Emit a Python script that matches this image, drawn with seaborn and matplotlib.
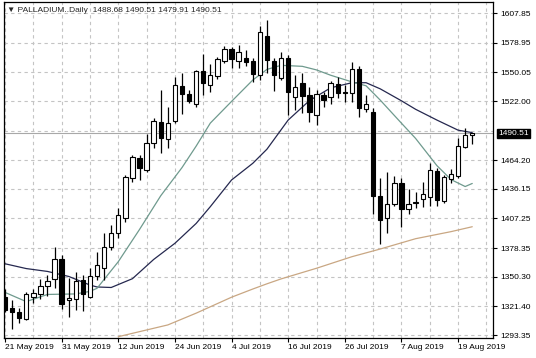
import numpy as np
import pandas as pd
import matplotlib
matplotlib.use("Agg")
import matplotlib.pyplot as plt
import seaborn as sns

# daily palladium bars, 21 May - 21 Aug 2019
dates = pd.bdate_range("2019-05-21", periods=67)

opens = [1330.5, 1319.3, 1316.1, 1309.0, 1330.5, 1333.4, 1341.3, 1348.1, 1367.6, 1327.6,
         1328.5, 1347.1, 1330.8, 1351.5, 1358.6, 1379.7, 1393.4, 1407.4, 1446.5, 1466.1,
         1454.7, 1480.7, 1501.9, 1485.0, 1502.6, 1536.8, 1528.7, 1519.2, 1551.4, 1537.8,
         1546.3, 1561.7, 1573.4, 1561.7, 1564.2, 1561.7, 1548.0, 1585.7, 1561.3, 1544.3,
         1563.9, 1526.3, 1539.7, 1528.0, 1508.4, 1528.0, 1526.0, 1538.5, 1530.6, 1529.9,
         1553.1, 1514.0, 1511.6, 1429.2, 1407.9, 1421.7, 1441.9, 1416.2, 1422.2, 1426.0,
         1428.6, 1454.0, 1424.7, 1445.4, 1448.8, 1477.4, 1488.68]
highs = [1338.3, 1327.6, 1319.7, 1335.4, 1338.3, 1348.1, 1352.0, 1379.4, 1371.6, 1349.1,
         1354.9, 1352.0, 1358.8, 1374.5, 1392.8, 1400.9, 1417.2, 1449.8, 1469.3, 1469.3,
         1489.9, 1505.2, 1532.9, 1516.5, 1545.6, 1549.5, 1532.9, 1552.4, 1568.1, 1558.3,
         1565.1, 1575.9, 1574.9, 1576.4, 1571.5, 1563.9, 1595.9, 1601.3, 1564.0, 1570.3,
         1567.1, 1548.0, 1549.2, 1535.8, 1532.9, 1531.2, 1541.9, 1545.1, 1537.8, 1560.2,
         1556.0, 1528.0, 1515.0, 1446.5, 1452.5, 1448.8, 1446.5, 1435.8, 1433.2, 1443.2,
         1461.8, 1456.3, 1449.8, 1455.3, 1486.4, 1495.4, 1490.51]
lows = [1315.8, 1299.2, 1305.4, 1308.0, 1324.6, 1328.5, 1331.5, 1339.3, 1318.8, 1311.2,
        1317.8, 1317.1, 1329.5, 1347.1, 1347.1, 1376.5, 1388.0, 1404.1, 1443.2, 1444.9,
        1453.0, 1475.9, 1471.0, 1475.9, 1500.6, 1509.4, 1520.2, 1516.7, 1528.0, 1530.9,
        1543.6, 1559.0, 1554.1, 1554.1, 1556.3, 1541.0, 1542.6, 1549.2, 1532.2, 1542.6,
        1508.4, 1513.3, 1510.4, 1501.1, 1498.4, 1515.8, 1519.4, 1524.7, 1521.4, 1521.0,
        1506.8, 1511.4, 1412.1, 1382.6, 1393.4, 1419.7, 1398.9, 1411.9, 1417.2, 1418.2,
        1419.5, 1419.5, 1422.7, 1442.2, 1447.3, 1476.2, 1479.91]
closes = [1317.8, 1316.3, 1309.7, 1333.9, 1334.9, 1341.3, 1346.1, 1368.1, 1323.6, 1330.0,
          1346.1, 1333.4, 1351.0, 1361.3, 1379.1, 1392.8, 1410.7, 1448.1, 1467.1, 1456.3,
          1480.7, 1502.9, 1485.6, 1500.9, 1537.8, 1529.0, 1522.6, 1551.4, 1539.4, 1547.5,
          1562.7, 1573.4, 1563.2, 1570.0, 1560.0, 1548.3, 1589.3, 1562.2, 1547.5, 1563.9,
          1530.9, 1535.8, 1526.7, 1510.9, 1528.7, 1523.4, 1539.4, 1530.4, 1530.2, 1553.1,
          1515.0, 1519.2, 1429.7, 1405.5, 1421.4, 1441.9, 1416.5, 1421.1, 1423.0, 1431.2,
          1454.7, 1425.3, 1447.5, 1450.8, 1478.1, 1488.9, 1490.51]

# moving averages (bar number, value)
fast_bars = [0, 3, 6, 10, 12, 13, 16, 19, 22, 25, 27, 29, 32, 35, 37, 39, 42, 44,
             46, 49, 51, 53, 56, 58, 61, 63, 65, 66]
fast_ma = [1335.0, 1326.0, 1333.0, 1333.5, 1336.0, 1339.0, 1365.0, 1396.5, 1429.5,
           1457.0, 1478.0, 1500.5, 1521.7, 1542.6, 1553.0, 1557.0, 1556.0, 1552.5,
           1547.3, 1540.8, 1537.0, 1523.0, 1500.4, 1485.5, 1459.0, 1445.3, 1438.5, 1441.5]
mid_bars = [0, 3, 6, 9, 12, 13, 15, 18, 21, 24, 27, 29, 32, 35, 37, 40, 43, 46, 49,
            51, 53, 56, 58, 61, 64, 66]
mid_ma = [1363.0, 1358.3, 1355.5, 1350.6, 1342.2, 1340.3, 1339.8, 1348.4, 1367.2,
          1383.0, 1402.4, 1418.8, 1444.9, 1461.2, 1475.0, 1503.5, 1522.5, 1535.0,
          1540.0, 1540.0, 1534.0, 1522.3, 1514.0, 1503.5, 1493.6, 1491.2]
slow_bars = [16, 23, 27, 32, 35, 37, 39, 44, 49, 53, 58, 63, 66]
slow_ma = [1291.7, 1303.2, 1314.7, 1330.3, 1338.3, 1343.4, 1348.2, 1358.6, 1369.9,
           1377.4, 1387.5, 1394.4, 1399.2]

y_ticks = [1293.35, 1321.40, 1350.30, 1378.35, 1407.25, 1436.15, 1464.20,
           1522.00, 1550.05, 1578.95, 1607.85]
hidden_grid = 1493.10
last_price = 1490.51
title = "▼ PALLADIUM..Daily  1488.68 1490.51 1479.91 1490.51"

sns.set_style("white")
plt.rcParams["font.family"] = ["Liberation Sans", "DejaVu Sans"]
plt.rcParams["font.size"] = 6

fig = plt.figure(figsize=(5.36, 3.58), dpi=100)
ax = fig.add_axes([4 / 536, 20 / 358, 489 / 536, 336 / 358])

grid_kw = dict(color="#c4c4c4", lw=0.8, ls=(0, (3, 3)), zorder=0)
for v in y_ticks + [hidden_grid]:
    ax.axhline(v, **grid_kw)
for b in range(0, 69, 4):
    ax.axvline(b, **grid_kw)

ax.axhline(last_price, color="#a8a8a8", lw=0.8, zorder=1)

sns.lineplot(x=slow_bars, y=slow_ma, ax=ax, color="#c9a783", lw=0.9, zorder=2)
sns.lineplot(x=mid_bars, y=mid_ma, ax=ax, color="#25284f", lw=0.9, zorder=2)
sns.lineplot(x=fast_bars, y=fast_ma, ax=ax, color="#6f9a8e", lw=0.9, zorder=2)

o = np.array(opens)
c = np.array(closes)
x = np.arange(len(dates))
ax.vlines(x, lows, highs, color="black", lw=0.9, zorder=3)
bottom = np.minimum(o, c)
height = np.maximum(np.abs(c - o), 0.8)
fills = np.where(c < o, "black", "white")
ax.bar(x, height, bottom=bottom, width=0.62, color=fills, edgecolor="black",
       linewidth=0.8, zorder=4)

ax.set_xlim(-0.14, 68.93)
ax.set_ylim(1290.42, 1618.9)

ax.yaxis.tick_right()
ax.set_yticks(y_ticks)
ax.set_yticklabels([f"{v:.2f}" for v in y_ticks])
lab_pos = list(range(0, 67, 8))
ax.set_xticks(lab_pos)
ax.set_xticklabels([f"{dates[i].day} {dates[i].strftime('%b %Y')}" for i in lab_pos],
                   ha="left")
ax.tick_params(axis="both", direction="out", length=3, width=0.8, colors="black",
               labelsize=6, pad=2)
ax.tick_params(axis="y", left=False, right=True)
ax.tick_params(axis="x", bottom=True, pad=1.5)
for s in ax.spines.values():
    s.set_visible(True)
    s.set_color("black")
    s.set_linewidth(0.9)
ax.set_xlabel("")
ax.set_ylabel("")

ax.annotate(f"{last_price:.2f}", xy=(1.0, last_price),
            xycoords=("axes fraction", "data"), xytext=(4, 0),
            textcoords="offset points", va="center", ha="left", fontsize=6,
            color="white", bbox=dict(boxstyle="square,pad=0.15", fc="black", ec="black"))

fig.text(7 / 536, 1 - 10 / 358, title, fontsize=6, va="center", ha="left")

fig.savefig("out.png", dpi=100)
